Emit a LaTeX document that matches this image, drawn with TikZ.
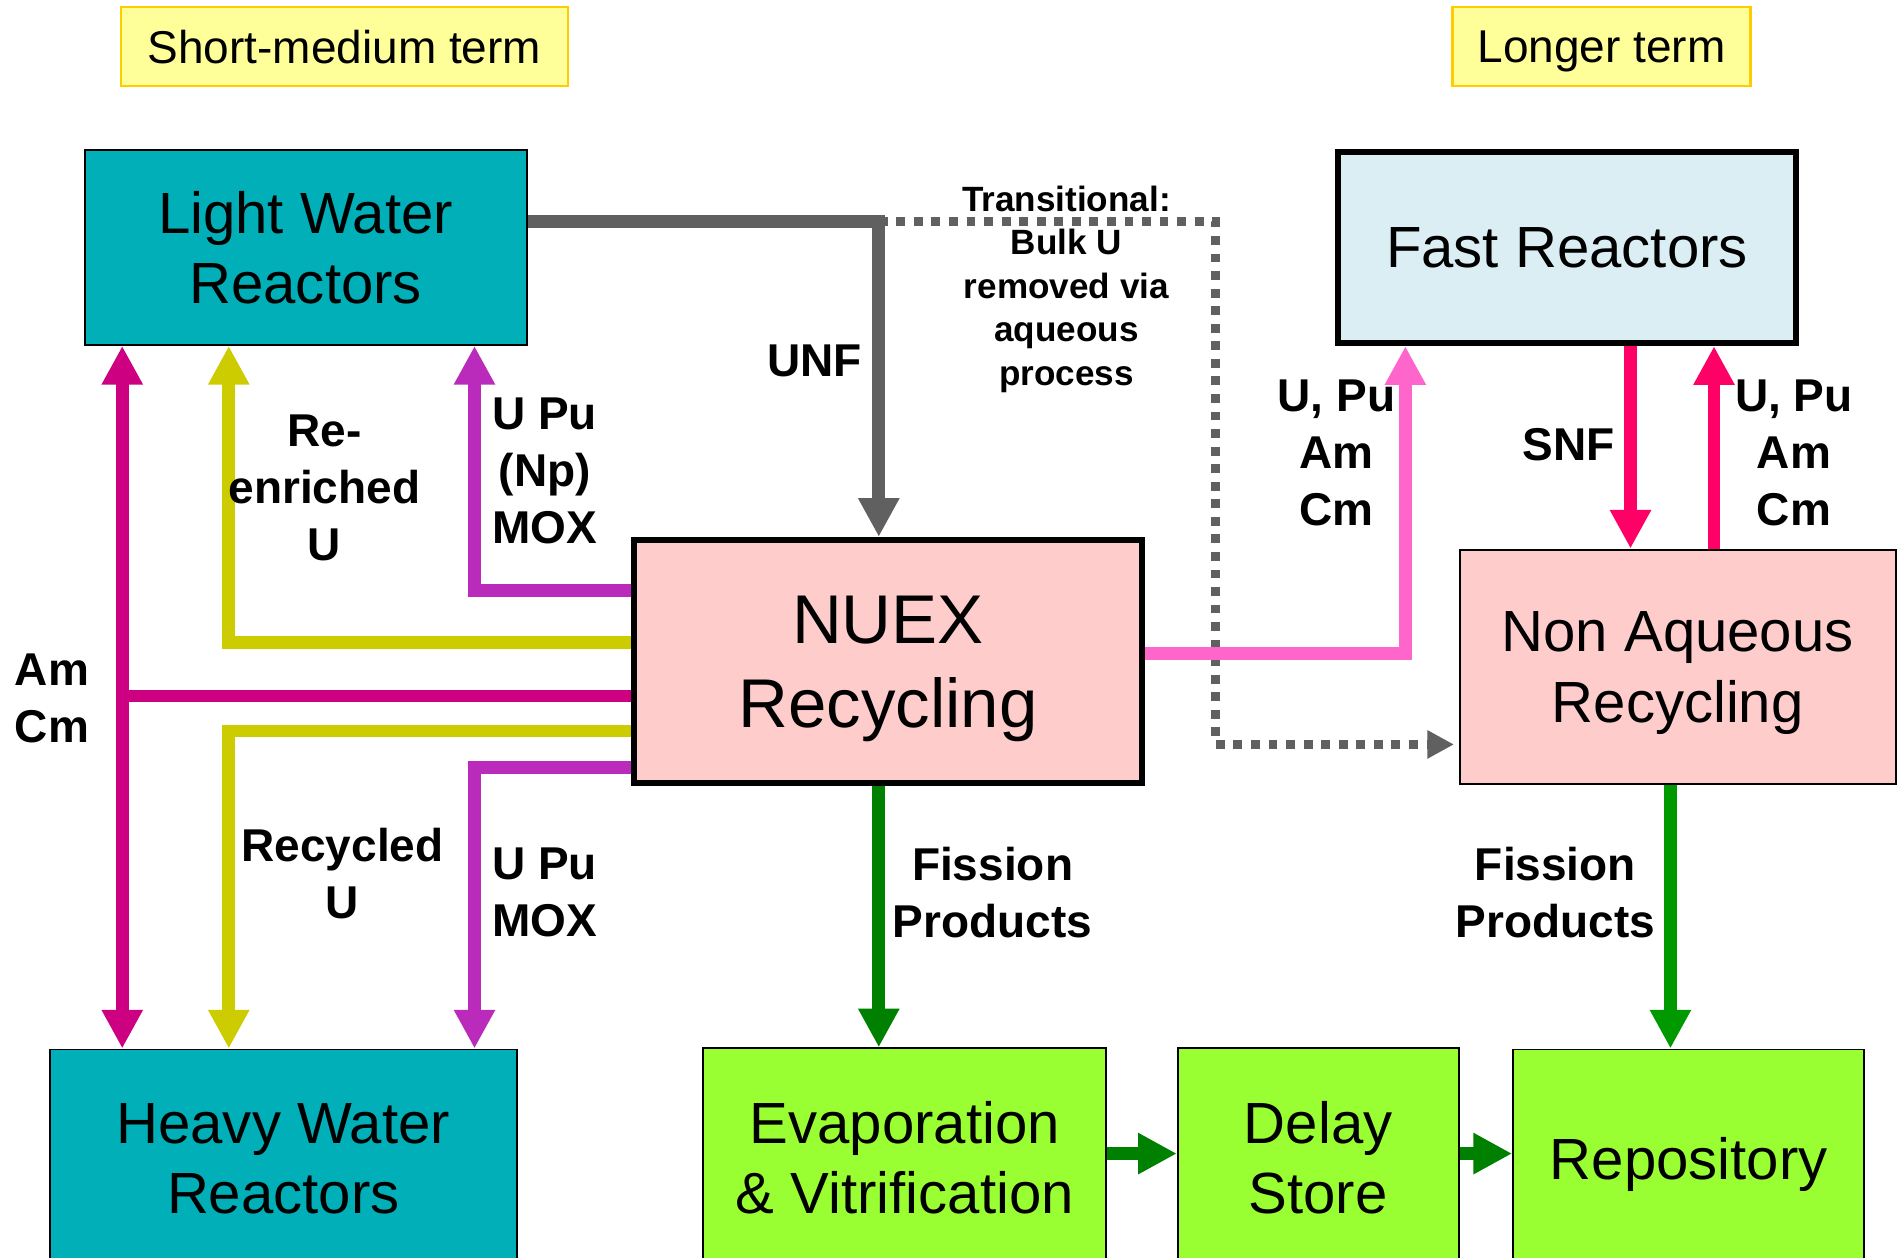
\documentclass[tikz,border=0pt]{standalone}
\usepackage{fontspec}
\setmainfont{Liberation Sans}
\usetikzlibrary{arrows.meta,calc}

\definecolor{reactorteal}{HTML}{00AFB8}
\definecolor{fastblue}{HTML}{DAEEF3}
\definecolor{recyclepink}{HTML}{FFCCCC}
\definecolor{wastegreen}{HTML}{99FF33}
\definecolor{tagfill}{HTML}{FFFF99}
\definecolor{tagedge}{HTML}{FFCC00}
\definecolor{unfgray}{HTML}{606060}
\definecolor{amcm}{HTML}{CC0080}
\definecolor{uranium}{HTML}{CCCC00}
\definecolor{moxpurple}{HTML}{BB2BBB}
\definecolor{feedpink}{HTML}{FF66CC}
\definecolor{snfred}{HTML}{FF0066}
\definecolor{fpgreen}{HTML}{008000}
\definecolor{fpgreenlight}{HTML}{009900}

\tikzset{
  fat/.tip={Triangle[width=32pt,length=32pt]},
  slim/.tip={Triangle[width=22pt,length=22pt]},
}

\begin{document}
\begin{tikzpicture}[x=1pt,y=-1pt,
  box/.style={draw=black, line width=1.6pt, inner sep=0pt, align=center,
    text depth=0pt, font=\fontsize{48}{58}\selectfont},
  heavybox/.style={box, line width=5pt},
  tag/.style={draw=tagedge, fill=tagfill, line width=2pt, inner sep=0pt,
    text depth=0pt, font=\fontsize{38}{46}\selectfont},
  pipe/.style={line width=10.5pt},
  flow/.style={pipe, -fat},
  lbl/.style={inner sep=0pt, align=center, font=\fontsize{38}{47}\selectfont\bfseries},
]
\useasboundingbox (0,0) rectangle (1568,1039);
\clip (0,0) rectangle (1568,1039);

% time-frame tags
\node[tag, minimum width=369pt, minimum height=65pt] (shortterm) at (284.5,38.5) {Short-medium term};
\node[tag, minimum width=246pt, minimum height=65pt] (longterm) at (1323,38.5) {Longer term};

% facilities
\node[box, fill=reactorteal, minimum width=365pt, minimum height=161pt] (lwr) at (252.5,204.5) {Light Water\\Reactors};
\node[heavybox, fill=fastblue, minimum width=378pt, minimum height=158pt] (fr) at (1294.5,204.5) {Fast Reactors};
\node[heavybox, fill=recyclepink, minimum width=420pt, minimum height=201pt,
  font=\fontsize{57}{69}\selectfont] (nuex) at (733.5,546.5) {NUEX\\Recycling};
\node[box, fill=recyclepink, minimum width=360pt, minimum height=194pt] (nar) at (1386,551) {Non Aqueous\\Recycling};
\node[box, fill=reactorteal, minimum width=386pt, minimum height=180pt] (hwr) at (234,957) {Heavy Water\\Reactors};
\node[box, fill=wastegreen, minimum width=333pt, minimum height=180pt] (evap) at (747.5,956) {Evaporation\\\& Vitrification};
\node[box, fill=wastegreen, minimum width=232pt, minimum height=180pt] (delay) at (1089,956) {Delay\\Store};
\node[box, fill=wastegreen, minimum width=290pt, minimum height=180pt] (repo) at (1395,957) {Repository};

% bend points of the routed flows
\coordinate (unfbend) at (726,183);
\coordinate (bulkA) at (1004,183);
\coordinate (bulkB) at (1004,615);
\coordinate (amcmjoin) at (101,575);
\coordinate (reup) at (189,531);
\coordinate (redown) at (189,604);
\coordinate (moxup) at (392,488);
\coordinate (moxdown) at (392,634);
\coordinate (frfeed) at (1161,540);
\coordinate (snf) at (1347,370);
\coordinate (ret) at (1416,370);
\coordinate (fpA) at (726,760);
\coordinate (fpB) at (1380,760);
\coordinate (chain) at (944,953);

% spent fuel to NUEX, and the transitional route
\draw[color=unfgray, line width=7.3pt, dash pattern=on 7.3pt off 7.2pt, -slim, shorten >=4pt]
  (unfbend) -- (bulkA) -- (bulkB) -- (bulkB -| nar.west);
\draw[flow, color=unfgray] (lwr.east |- unfbend) -- (unfbend) -- (unfbend |- nuex.north);

% Am Cm to both reactor types
\draw[pipe, color=amcm, fat-fat] (lwr.south -| amcmjoin) -- (hwr.north -| amcmjoin);
\draw[pipe, color=amcm] (nuex.west |- amcmjoin) -- (amcmjoin);

% uranium returns
\draw[flow, color=uranium] (nuex.west |- reup) -- (reup) -- (reup |- lwr.south);
\draw[flow, color=uranium] (nuex.west |- redown) -- (redown) -- (redown |- hwr.north);

% MOX returns
\draw[flow, color=moxpurple] (nuex.west |- moxup) -- (moxup) -- (moxup |- lwr.south);
\draw[flow, color=moxpurple] (nuex.west |- moxdown) -- (moxdown) -- (moxdown |- hwr.north);

% fast reactor loop
\draw[flow, color=feedpink] (nuex.east |- frfeed) -- (frfeed) -- (frfeed |- fr.south);
\draw[flow, color=snfred] (snf |- fr.south) -- (snf |- nar.north);
\draw[flow, color=snfred] (ret |- nar.north) -- (ret |- fr.south);

% fission products
\draw[flow, color=fpgreen] (fpA |- nuex.south) -- (fpA |- evap.north);
\draw[flow, color=fpgreenlight] (fpB |- nar.south) -- (fpB |- repo.north);
\draw[flow, color=fpgreen] (evap.east |- chain) -- (delay.west |- chain);
\draw[flow, color=fpgreen] (delay.east |- chain) -- (repo.west |- chain);

% flow labels
\node[lbl] (unflbl) at (673,298) {UNF};
\node[lbl, font=\fontsize{29}{36}\selectfont\bfseries] (translbl) at (881,239)
  {Transitional:\\Bulk U\\removed via\\aqueous\\process};
\node[lbl] (reenrlbl) at (268,403) {Re-\\enriched\\U};
\node[lbl] (npmoxlbl) at (450,389) {U Pu\\(Np)\\MOX};
\node[lbl] (amcmlbl) at (43,577) {Am\\Cm};
\node[lbl] (recyclbl) at (283,722) {Recycled\\U};
\node[lbl] (moxlbl) at (450,737) {U Pu\\MOX};
\node[lbl] (fplblA) at (820,737) {Fission\\Products};
\node[lbl] (fplblB) at (1285,737) {Fission\\Products};
\node[lbl] (feedlbl) at (1104,374) {U, Pu\\Am\\Cm};
\node[lbl] (snflbl) at (1296,367) {SNF};
\node[lbl] (retlbl) at (1482,374) {U, Pu\\Am\\Cm};
\end{tikzpicture}
\end{document}
